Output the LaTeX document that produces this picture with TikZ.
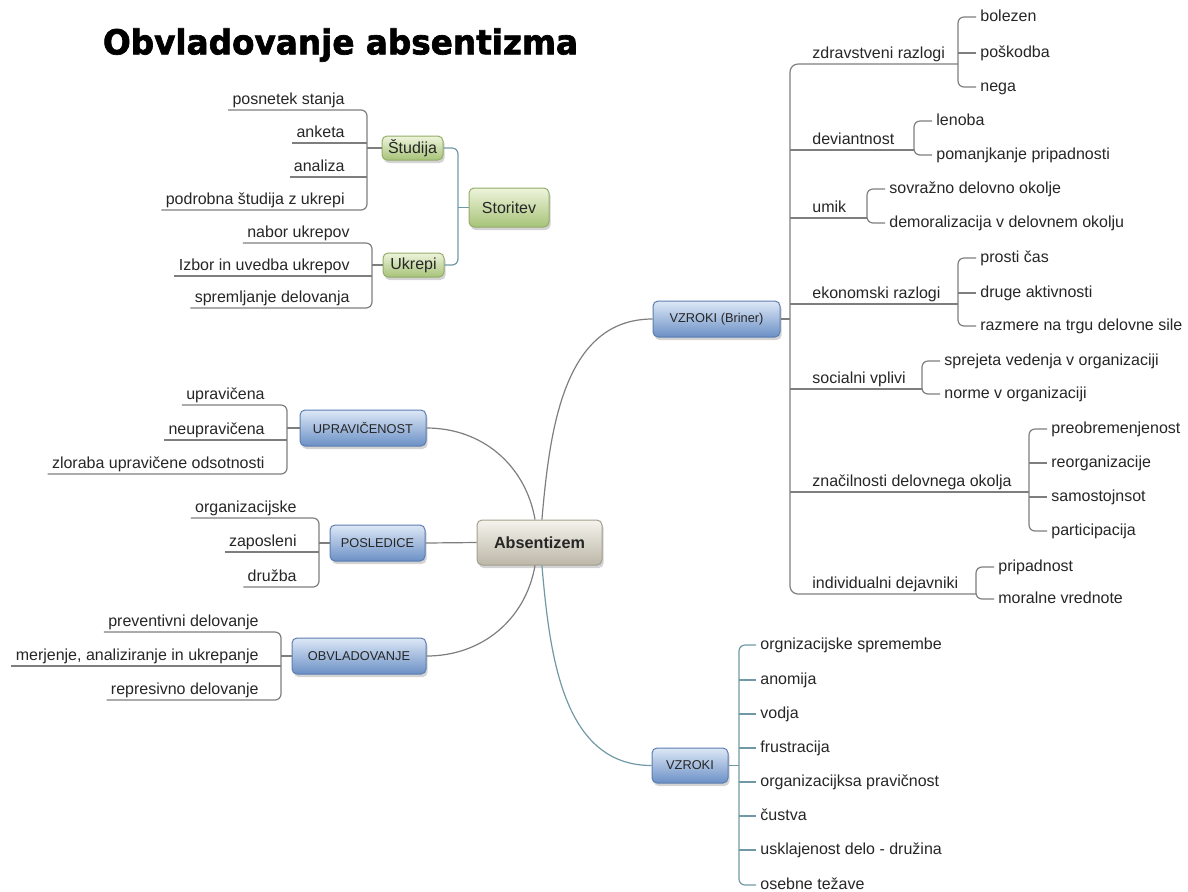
\documentclass[tikz,border=0pt]{standalone}
\usepackage{fontspec}
\setmainfont{Liberation Sans}
\newfontfamily\titlefont{DejaVu Sans}[FakeBold=2]
\usepackage{graphicx}
\usepackage{xcolor}
\usepackage{tikz}
\usetikzlibrary{shadows}
\usetikzlibrary{positioning}
\usetikzlibrary{calc}

\definecolor{txt}{HTML}{262626}
\definecolor{lgray}{HTML}{7E7E7E}
\definecolor{lteal}{HTML}{7199A5}
\definecolor{gtop}{HTML}{EEF4DC}
\definecolor{gbot}{HTML}{A7C378}
\definecolor{gline}{HTML}{93AD6A}
\definecolor{btop}{HTML}{DDE8F6}
\definecolor{bbot}{HTML}{6B90C6}
\definecolor{bline}{HTML}{5B7DB0}
\definecolor{ctop}{HTML}{F5F3ED}
\definecolor{cbot}{HTML}{BCB7A7}
\definecolor{cline}{HTML}{A39E8E}

\tikzset{
  box/.style={rounded corners=2.5pt, inner sep=0pt, line width=0.5pt, text=txt,
    drop shadow={opacity=0.35, shadow xshift=0.8pt, shadow yshift=-1.5pt}},
  gbox/.style={box, draw=gline, top color=gtop, bottom color=gbot, font=\fontsize{8}{9.6}\selectfont},
  bbox/.style={box, draw=bline, top color=btop, bottom color=bbot, font=\fontsize{6.4}{8}\selectfont},
  cbox/.style={box, draw=cline, top color=ctop, bottom color=cbot, font=\fontsize{8.1}{9.6}\selectfont\bfseries},
  leaf/.style={text=txt, font=\fontsize{8}{9.6}\selectfont, inner xsep=2pt, inner ysep=1pt,
    text height=5.8pt, text depth=1.8pt},
  lft/.style={leaf, anchor=south east},
  rgt/.style={leaf, anchor=south west},
  tip/.style={leaf, anchor=west},
  ln/.style={draw=lgray, line width=0.6pt},
  tl/.style={draw=lteal, line width=0.6pt},
}

\begin{document}
\begin{tikzpicture}[x=0.5pt, y=-0.5pt]
 \useasboundingbox (0,0) rectangle (1188,891);

 %title
 \node (title) at (340.5,45) {\resizebox{237.5pt}{13pt}{\titlefont\bfseries Obvladovanje absentizma}};

 %center
 \node[cbox, minimum width=62.5pt, minimum height=22.5pt] (abs) at (539.5,542.5) {Absentizem};

 %storitev
 \node[gbox, minimum width=40pt, minimum height=19.5pt] (stor) at (509,207.5) {Storitev};
 \node[gbox, minimum width=30.5pt, minimum height=12pt] (stud) at (412.5,148) {Študija};
 \node[gbox, minimum width=30.5pt, minimum height=12pt] (ukr) at (413.5,265) {Ukrepi};
 \node[lft] (s1) at (349,110) {posnetek stanja};
 \node[lft] (s2) at (349,143) {anketa};
 \node[lft] (s3) at (349,177) {analiza};
 \node[lft] (s4) at (349,210) {podrobna študija z ukrepi};
 \node[lft] (u1) at (354,243) {nabor ukrepov};
 \node[lft] (u2) at (354,276) {Izbor in uvedba ukrepov};
 \node[lft] (u3) at (354,308) {spremljanje delovanja};

 %left branches
 \node[bbox, minimum width=63pt, minimum height=18pt] (upr) at (363,428) {UPRAVIČENOST};
 \node[bbox, minimum width=47.5pt, minimum height=18pt] (pos) at (377.5,543) {POSLEDICE};
 \node[bbox, minimum width=67pt, minimum height=18pt] (obv) at (359,656) {OBVLADOVANJE};
 \node[lft] (p1) at (269,405) {upravičena};
 \node[lft] (p2) at (269,440) {neupravičena};
 \node[lft] (p3) at (269,474) {zloraba upravičene odsotnosti};
 \node[lft] (q1) at (301,518) {organizacijske};
 \node[lft] (q2) at (301,552) {zaposleni};
 \node[lft] (q3) at (301,587) {družba};
 \node[lft] (o1) at (263,632) {preventivni delovanje};
 \node[lft] (o2) at (263,666) {merjenje, analiziranje in ukrepanje};
 \node[lft] (o3) at (263,700) {represivno delovanje};

 %vzroki (briner)
 \node[bbox, minimum width=63.5pt, minimum height=18pt] (brin) at (716.5,319) {VZROKI (Briner)};
 \node[rgt] (zdr) at (808,64) {zdravstveni razlogi};
 \node[rgt] (dev) at (808,150) {deviantnost};
 \node[rgt] (umk) at (808,218) {umik};
 \node[rgt] (eko) at (808,304) {ekonomski razlogi};
 \node[rgt] (soc) at (808,389) {socialni vplivi};
 \node[rgt] (zna) at (808,492) {značilnosti delovnega okolja};
 \node[rgt] (ind) at (808,594) {individualni dejavniki};
 \node[tip] (z1) at (976,17) {bolezen};
 \node[tip] (z2) at (976,53) {poškodba};
 \node[tip] (z3) at (976,87) {nega};
 \node[tip] (d1) at (932,121) {lenoba};
 \node[tip] (d2) at (932,155) {pomanjkanje pripadnosti};
 \node[tip] (m1) at (885,189) {sovražno delovno okolje};
 \node[tip] (m2) at (885,223) {demoralizacija v delovnem okolju};
 \node[tip] (e1) at (976,258) {prosti čas};
 \node[tip] (e2) at (976,293) {druge aktivnosti};
 \node[tip] (e3) at (976,326) {razmere na trgu delovne sile};
 \node[tip] (c1) at (940,361) {sprejeta vedenja v organizaciji};
 \node[tip] (c2) at (940,394) {norme v organizaciji};
 \node[tip] (k1) at (1047,429) {preobremenjenost};
 \node[tip] (k2) at (1047,463) {reorganizacije};
 \node[tip] (k3) at (1047,497) {samostojnsot};
 \node[tip] (k4) at (1047,531) {participacija};
 \node[tip] (i1) at (994,567) {pripadnost};
 \node[tip] (i2) at (994,599) {moralne vrednote};

 %vzroki
 \node[bbox, minimum width=38pt, minimum height=17.5pt] (vzr) at (690,765.5) {VZROKI};
 \node[tip] (v1) at (756,645) {orgnizacijske spremembe};
 \node[tip] (v2) at (756,680) {anomija};
 \node[tip] (v3) at (756,714) {vodja};
 \node[tip] (v4) at (756,748) {frustracija};
 \node[tip] (v5) at (756,782) {organizacijksa pravičnost};
 \node[tip] (v6) at (756,816) {čustva};
 \node[tip] (v7) at (756,850) {usklajenost delo - družina};
 \node[tip] (v8) at (756,885) {osebne težave};

 %bracket points
 \coordinate (sb) at (458,207.5);
 \coordinate (studb) at (367,148);
 \coordinate (ukrb) at (372,265);
 \coordinate (uprb) at (287,428);
 \coordinate (posb) at (319,543);
 \coordinate (obvb) at (281,656);
 \coordinate (vb) at (790,319);
 \coordinate (zdrb) at (958,64);
 \coordinate (devb) at (914,150);
 \coordinate (umkb) at (867,218);
 \coordinate (ekob) at (958,304);
 \coordinate (socb) at (922,389);
 \coordinate (znab) at (1029,492);
 \coordinate (indb) at (976,594);
 \coordinate (vzrb) at (739,765.5);

 %lines center
 \path[ln] (upr.east) to[out=0, in=100] (abs.101);
 \path[ln] (pos.east) -- (abs.west);
 \path[ln] (obv.east) to[out=0, in=260] (abs.259);
 \path[ln] (abs.84) to[out=85, in=180] (brin.west);
 \path[tl] (abs.276) to[out=275, in=180] (vzr.west);

 %lines storitev
 \path[tl, rounded corners=3pt] (stud.east) -- (stud.east -| sb) -- (ukr.east -| sb) -- (ukr.east);
 \path[tl] (sb) -- (stor.west);
 \path[ln, rounded corners=3pt] (s1.south west) -- (s1.south west -| studb) -- (s4.south west -| studb) -- (s4.south west);
 \path[ln] (s2.south west) -- (s2.south west -| studb);
 \path[ln] (s3.south west) -- (s3.south west -| studb);
 \path[ln] (studb) -- (stud.west);
 \path[ln, rounded corners=3pt] (u1.south west) -- (u1.south west -| ukrb) -- (u3.south west -| ukrb) -- (u3.south west);
 \path[ln] (u2.south west) -- (u2.south west -| ukrb);
 \path[ln] (ukrb) -- (ukr.west);

 %lines left
 \path[ln, rounded corners=3pt] (p1.south west) -- (p1.south west -| uprb) -- (p3.south west -| uprb) -- (p3.south west);
 \path[ln] (p2.south west) -- (p2.south west -| uprb);
 \path[ln] (uprb) -- (upr.west);
 \path[ln, rounded corners=3pt] (q1.south west) -- (q1.south west -| posb) -- (q3.south west -| posb) -- (q3.south west);
 \path[ln] (q2.south west) -- (q2.south west -| posb);
 \path[ln] (posb) -- (pos.west);
 \path[ln, rounded corners=3pt] (o1.south west) -- (o1.south west -| obvb) -- (o3.south west -| obvb) -- (o3.south west);
 \path[ln] (o2.south west) -- (o2.south west -| obvb);
 \path[ln] (obvb) -- (obv.west);

 %lines briner
 \path[ln] (brin.east) -- (vb);
 \path[ln, rounded corners=4pt] (zdrb) -- (zdr.south west -| vb) -- (ind.south west -| vb) -- (indb);
 \path[ln] (dev.south west -| vb) -- (devb);
 \path[ln] (umk.south west -| vb) -- (umkb);
 \path[ln] (eko.south west -| vb) -- (ekob);
 \path[ln] (soc.south west -| vb) -- (socb);
 \path[ln] (zna.south west -| vb) -- (znab);
 \path[ln, rounded corners=3pt] (z1.west) -- (z1.west -| zdrb) -- (z3.west -| zdrb) -- (z3.west);
 \path[ln] (z2.west) -- (z2.west -| zdrb);
 \path[ln, rounded corners=3pt] (d1.west) -- (d1.west -| devb) -- (d2.west -| devb) -- (d2.west);
 \path[ln, rounded corners=3pt] (m1.west) -- (m1.west -| umkb) -- (m2.west -| umkb) -- (m2.west);
 \path[ln, rounded corners=3pt] (e1.west) -- (e1.west -| ekob) -- (e3.west -| ekob) -- (e3.west);
 \path[ln] (e2.west) -- (e2.west -| ekob);
 \path[ln, rounded corners=3pt] (c1.west) -- (c1.west -| socb) -- (c2.west -| socb) -- (c2.west);
 \path[ln, rounded corners=3pt] (k1.west) -- (k1.west -| znab) -- (k4.west -| znab) -- (k4.west);
 \path[ln] (k2.west) -- (k2.west -| znab);
 \path[ln] (k3.west) -- (k3.west -| znab);
 \path[ln, rounded corners=3pt] (i1.west) -- (i1.west -| indb) -- (i2.west -| indb) -- (i2.west);

 %lines vzroki
 \path[tl] (vzr.east) -- (vzrb);
 \path[tl, rounded corners=3pt] (v1.west) -- (v1.west -| vzrb) -- (v8.west -| vzrb) -- (v8.west);
 \path[tl] (v2.west) -- (v2.west -| vzrb);
 \path[tl] (v3.west) -- (v3.west -| vzrb);
 \path[tl] (v4.west) -- (v4.west -| vzrb);
 \path[tl] (v5.west) -- (v5.west -| vzrb);
 \path[tl] (v6.west) -- (v6.west -| vzrb);
 \path[tl] (v7.west) -- (v7.west -| vzrb);

\end{tikzpicture}
\end{document}
